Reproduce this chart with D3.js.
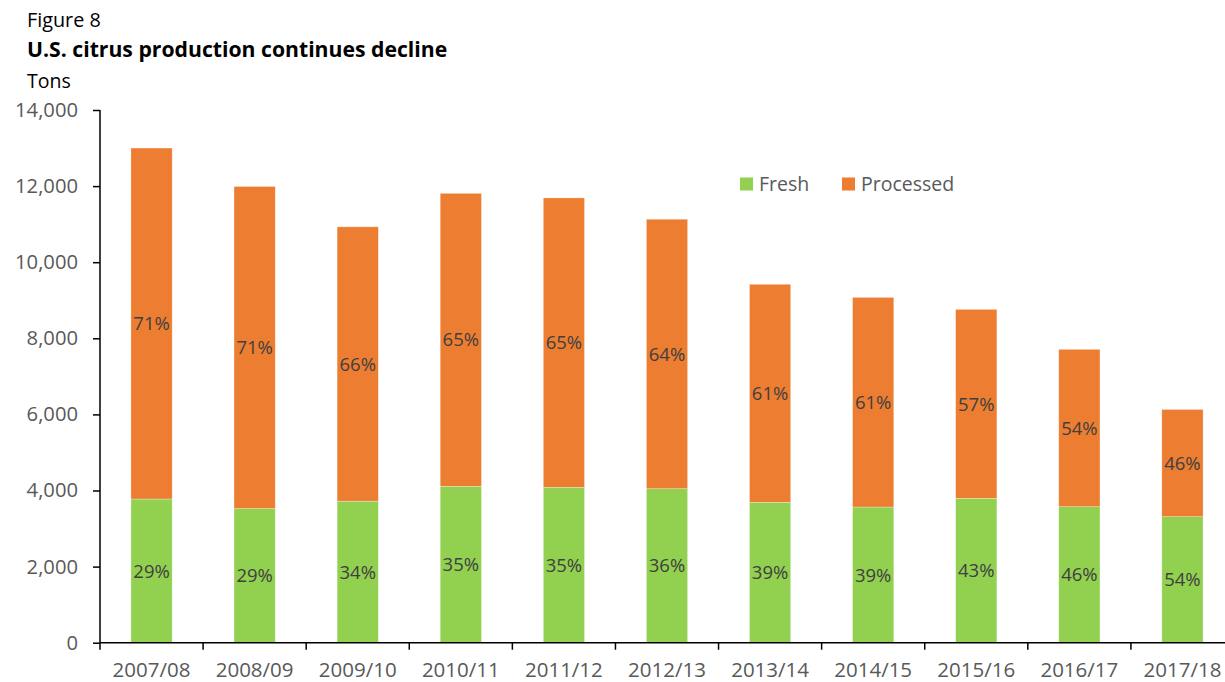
<!DOCTYPE html>
<html>
<head>
<meta charset="utf-8">
<script src="https://cdn.jsdelivr.net/npm/d3@7"></script>
<style>
  html, body { margin: 0; padding: 0; background: #fff; }
  svg { display: block; font-family: "Open Sans", "Noto Sans", sans-serif; }
</style>
</head>
<body>
<svg id="chart" width="1225" height="682"></svg>
<script>
const seasons = ["2007/08","2008/09","2009/10","2010/11","2011/12","2012/13","2013/14","2014/15","2015/16","2016/17","2017/18"];
const fresh = [3777, 3525, 3720, 4110, 4085, 4047, 3690, 3566, 3795, 3574, 3312];
const processed = [9223, 8465, 7210, 7700, 7605, 7083, 5730, 5509, 4965, 4136, 2818];
const freshPct = ["29%","29%","34%","35%","35%","36%","39%","39%","43%","46%","54%"];
const processedPct = ["71%","71%","66%","65%","65%","64%","61%","61%","57%","54%","46%"];
const yTicks = [0, 2000, 4000, 6000, 8000, 10000, 12000, 14000];
const seriesNames = ["Fresh", "Processed"];
const seriesColors = ["#92D050", "#ED7D31"];

const svg = d3.select("#chart");
const plotLeft = 100, plotRight = 1234, plotTop = 110, plotBottom = 642.7;

const x = d3.scaleBand().domain(seasons).range([plotLeft, plotRight]).paddingInner(0.6).paddingOuter(0.3);
const y = d3.scaleLinear().domain([0, 14000]).range([plotBottom, plotTop]);

const rows = seasons.map((s, i) => ({season: s, Fresh: fresh[i], Processed: processed[i], fp: freshPct[i], pp: processedPct[i]}));
const stack = d3.stack().keys(seriesNames)(rows);

// Title texts
svg.append("text").attr("x", 27).attr("y", 27).attr("font-size", 19.8).attr("fill", "#000").text("Figure 8");
svg.append("text").attr("x", 27).attr("y", 57).attr("font-size", 21.2).attr("font-weight", "bold").attr("fill", "#000").text("U.S. citrus production continues decline");
svg.append("text").attr("x", 27).attr("y", 88).attr("font-size", 19.5).attr("fill", "#000").text("Tons");

// Bars
stack.forEach((layer, li) => {
  svg.append("g").selectAll("rect").data(layer).join("rect")
    .attr("x", d => x(d.data.season))
    .attr("width", x.bandwidth())
    .attr("y", d => y(d[1]))
    .attr("height", d => y(d[0]) - y(d[1]))
    .attr("fill", seriesColors[li])
    .attr("stroke", "#ffffff").attr("stroke-opacity", 0.5).attr("stroke-width", 0.6);
  svg.append("g").selectAll("text").data(layer).join("text")
    .attr("x", d => x(d.data.season) + x.bandwidth() / 2)
    .attr("y", d => (y(d[0]) + y(d[1])) / 2)
    .attr("dy", "0.36em")
    .attr("text-anchor", "middle")
    .attr("font-size", 18.5)
    .attr("fill", "#404040")
    .text(d => li === 0 ? d.data.fp : d.data.pp);
});

// Y axis
const yAxis = d3.axisLeft(y).tickValues(yTicks).tickFormat(d3.format(",")).tickSize(7).tickPadding(15);
const gy = svg.append("g").attr("transform", `translate(${plotLeft},0)`).call(yAxis);
gy.select(".domain").attr("stroke", "#000").attr("stroke-width", 1.5).attr("d", `M0,${plotTop}V${plotBottom}`);
gy.selectAll(".tick line").attr("stroke", "#000").attr("stroke-width", 1.5);
gy.selectAll(".tick text").attr("font-size", 20.2).attr("fill", "#595959").attr("font-family", "Open Sans, sans-serif");

// X axis
const gx = svg.append("g").attr("transform", `translate(0,${plotBottom})`);
gx.append("line").attr("x1", plotLeft).attr("x2", plotRight).attr("stroke", "#000").attr("stroke-width", 1.5);
const boundaries = seasons.map(s => x(s) - x.step() * x.paddingInner() / 2).concat([plotRight]);
gx.selectAll("line.tk").data(boundaries).join("line").attr("class", "tk")
  .attr("x1", d => d).attr("x2", d => d).attr("y1", 0).attr("y2", 7)
  .attr("stroke", "#000").attr("stroke-width", 1.5);
gx.selectAll("text").data(seasons).join("text")
  .attr("x", d => x(d) + x.bandwidth() / 2)
  .attr("y", 34)
  .attr("text-anchor", "middle")
  .attr("font-size", 20.5)
  .attr("fill", "#595959")
  .text(d => d);

// Legend
const legendX = [740, 842];
const lg = svg.append("g");
seriesNames.forEach((n, i) => {
  lg.append("rect").attr("x", legendX[i]).attr("y", 177.5).attr("width", 13).attr("height", 13).attr("fill", seriesColors[i]);
  lg.append("text").attr("x", legendX[i] + 19).attr("y", 190.5).attr("font-size", 19.5).attr("fill", "#595959").text(n);
});
</script>
</body>
</html>
